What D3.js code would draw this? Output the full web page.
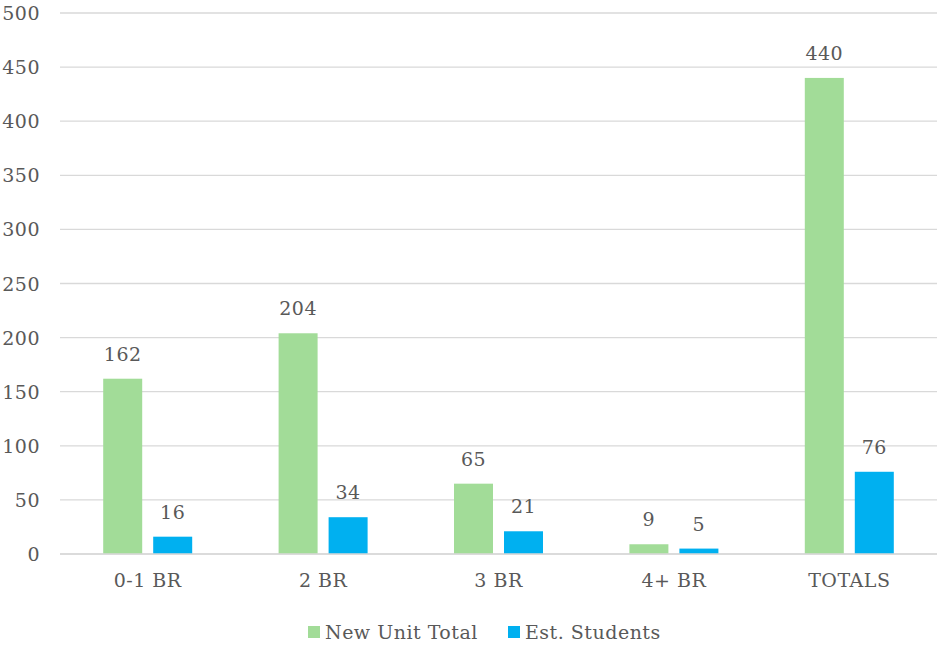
<!DOCTYPE html>
<html>
<head>
<meta charset="utf-8">
<script src="https://cdn.jsdelivr.net/npm/d3@7"></script>
<style>
  body { margin: 0; background: #fff; }
  svg text { font-family: "DejaVu Serif", "Liberation Serif", serif; fill: #595959; letter-spacing: 0.5px; }
</style>
</head>
<body>
<svg id="chart" width="940" height="645"></svg>
<script>
// Bedroom mix of new units and estimated students generated
const categories = ["0-1 BR", "2 BR", "3 BR", "4+ BR", "TOTALS"];
const seriesNames = ["New Unit Total", "Est. Students"];
const newUnitTotal = [162, 204, 65, 9, 440];
const estStudents = [16, 34, 21, 5, 76];
const yTicks = [0, 50, 100, 150, 200, 250, 300, 350, 400, 450, 500];
const colors = ["#a2dc98", "#00b0f0"];

const svg = d3.select("#chart");
const margin = { left: 60, right: 3, top: 13, bottom: 91 };
const W = 940, H = 645;
const fs = 19;

const x = d3.scaleBand().domain(categories).range([margin.left, W - margin.right]);
const y = d3.scaleLinear().domain([0, 500]).range([H - margin.bottom, margin.top]);

const barW = 39, innerGap = 11;
const groupW = barW * 2 + innerGap;
const xs = d3.scaleOrdinal().domain(seriesNames).range([0, barW + innerGap]);

// horizontal gridlines
svg.append("g")
  .selectAll("line")
  .data(yTicks)
  .join("line")
  .attr("x1", margin.left).attr("x2", W - margin.right)
  .attr("y1", d => y(d)).attr("y2", d => y(d))
  .attr("stroke", "#d9d9d9").attr("stroke-width", 1.3);

// y tick labels
svg.append("g")
  .selectAll("text")
  .data(yTicks)
  .join("text")
  .attr("x", 40).attr("y", d => y(d) + 7)
  .attr("text-anchor", "end")
  .attr("font-size", fs)
  .text(d => d);

const rows = categories.map((c, i) => ({ cat: c, values: [newUnitTotal[i], estStudents[i]] }));

const groups = svg.append("g")
  .selectAll("g")
  .data(rows)
  .join("g")
  .attr("transform", d => `translate(${x(d.cat) + x.bandwidth() / 2 - groupW / 2},0)`);

groups.selectAll("rect")
  .data(d => d.values.map((v, j) => ({ name: seriesNames[j], v, j })))
  .join("rect")
  .attr("x", d => xs(d.name))
  .attr("width", barW)
  .attr("y", d => y(d.v))
  .attr("height", d => y(0) - y(d.v))
  .attr("fill", d => colors[d.j]);

groups.selectAll("text")
  .data(d => d.values.map((v, j) => ({ name: seriesNames[j], v, j })))
  .join("text")
  .attr("x", d => xs(d.name) + barW / 2)
  .attr("y", d => y(d.v) - 18)
  .attr("text-anchor", "middle")
  .attr("font-size", fs)
  .text(d => d.v);

// x axis baseline
svg.append("line")
  .attr("x1", margin.left).attr("x2", W - margin.right)
  .attr("y1", y(0)).attr("y2", y(0))
  .attr("stroke", "#d9d9d9").attr("stroke-width", 1.3);

// category labels
svg.append("g")
  .selectAll("text")
  .data(categories)
  .join("text")
  .attr("x", d => x(d) + x.bandwidth() / 2)
  .attr("y", 587)
  .attr("text-anchor", "middle")
  .attr("font-size", fs)
  .text(d => d);

// legend
const legendX = [308, 508];
const legend = svg.append("g")
  .selectAll("g")
  .data(seriesNames)
  .join("g")
  .attr("transform", (d, i) => `translate(${legendX[i]},0)`);
legend.append("rect")
  .attr("x", 0).attr("y", 626).attr("width", 12).attr("height", 12)
  .attr("fill", (d, i) => colors[i]);
legend.append("text")
  .attr("x", 17).attr("y", 639)
  .attr("font-size", fs)
  .text(d => d);
</script>
</body>
</html>
